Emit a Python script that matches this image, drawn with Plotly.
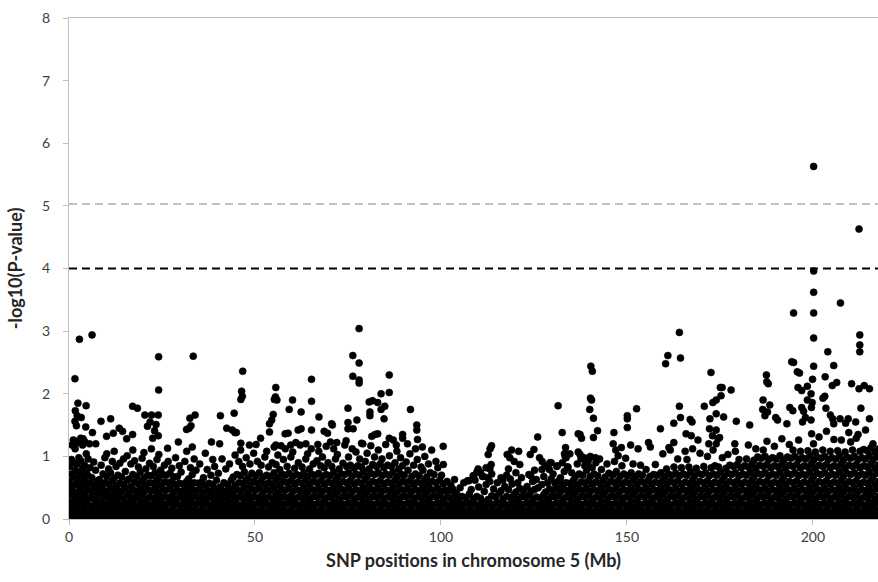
import plotly.graph_objects as go

# ---- Data ----
# Dense background band: one string per 1-Mb column (0..217), -log10(P) values x100
band_0_49 = [
    "1 9 18 27 38 49 60 72 84 95", "4 13 24 35 44 55 67 78 90 112 126", "2 10 21 31 42 53 64 75 88 98 122",
    "5 15 26 37 48 58 70 81 93 118 129", "1 8 19 30 40 52 63 74 86 104 124", "3 12 23 34 46 57 69 82 96",
    "2 11 20 32 43 54 66 91", "6 16 27 38 49 60 78", "1 9 19 29 41 52 63 86", "4 14 25 36 47 58 72 98",
    "2 11 22 33 44 56 68 80 104", "5 16 27 37 49 61 74 92", "1 10 20 31 42 53 65 84 108", "3 13 24 35 46 57 70 89",
    "2 12 22 32 44 55 67 96", "6 15 26 38 50 62 76 101", "1 9 19 30 41 52 64 88", "4 14 25 35 47 59 71 93 110",
    "2 11 21 33 44 56 68 83", "5 16 27 38 49 61 75 97", "1 10 20 31 43 54 66 80 106", "3 13 24 35 47 58 70 89",
    "2 11 22 33 45 57 69 84 112", "6 16 27 39 50 62 74 95", "1 9 20 31 42 54 66 78 103", "4 14 25 36 48 59 71 86",
    "2 12 23 34 46 58 70 92", "5 15 26 37 49 60 73 81", "1 10 21 32 43 55 67 98", "3 13 24 35 46 57 68 85",
    "2 11 22 33 44 56 75", "6 16 27 38 49 60 92 108", "1 9 20 31 42 53 64 82", "4 14 25 36 47 58 71 96 115",
    "2 12 23 34 45 57 78", "5 15 26 37 48 59 88", "1 10 21 31 42 54 66 105", "3 13 24 35 46 57 79",
    "2 11 22 33 44 55 70 95", "6 16 27 38 49 62 84", "1 9 19 30 40 51 73", "4 14 25 35 46 58 96",
    "2 12 22 33 44 55 80", "5 15 26 37 48 62 88", "1 10 20 31 42 53 67 102", "3 13 24 35 47 58 71 92",
    "2 11 22 34 45 57 69 84 110", "6 16 27 38 50 62 75 98", "1 9 20 31 42 54 66 88", "4 14 25 36 48 60 73 105",
]
band_50_99 = [
    "2 12 23 34 46 57 69 92", "5 15 26 37 49 61 74 86", "1 10 21 32 43 55 67 99", "3 13 24 35 47 58 70 83 108",
    "2 11 22 33 45 56 68 90", "6 16 27 38 50 62 74 87 115", "1 9 20 31 42 54 66 79 102", "4 14 25 36 48 60 72 95",
    "2 12 23 34 46 58 70 84 112", "5 15 26 37 49 61 73 99", "1 10 21 32 44 56 68 81 107", "3 13 24 35 47 59 71 90",
    "2 11 22 34 45 57 69 83 118", "6 16 27 39 50 62 74 96", "1 9 20 31 43 55 67 80 104", "4 14 25 36 48 60 72 88 112",
    "2 12 23 35 46 58 70 93", "5 15 26 38 49 61 73 85 108", "1 10 21 32 44 56 68 82 99", "3 13 24 35 47 59 71 90 116",
    "2 11 22 34 45 57 69 84", "6 16 27 39 50 62 75 96 112", "1 9 20 31 43 55 67 80 103", "4 14 25 36 48 60 72 89",
    "2 12 23 35 46 58 71 84 118", "5 15 26 38 49 61 74 86 99", "1 10 21 32 44 56 68 81 112", "3 13 24 35 47 59 72 85 107",
    "2 11 22 34 45 57 70 83 96 121", "6 16 27 39 50 63 76 92", "1 9 20 31 43 55 68 80 105", "4 14 25 36 48 60 73 87 117",
    "2 12 23 35 46 58 71 84 99", "5 15 26 38 49 61 74 88 110", "1 10 21 32 44 56 69 82 96", "3 13 24 35 47 59 72 86 119",
    "2 11 22 34 45 57 70 84 101", "6 16 27 39 50 62 75 90", "1 9 20 31 43 55 67 80 108", "4 14 25 36 48 60 72 85 98",
    "2 12 23 35 46 58 70 91", "5 15 26 38 49 61 78 104", "1 10 21 32 44 56 68 86", "3 13 24 35 47 59 72 95 112",
    "2 11 22 34 45 57 69 83", "6 16 27 39 50 62 78 100", "1 9 20 31 43 55 67 88", "4 14 25 36 48 60 74",
    "2 12 23 35 46 58 71 92", "5 15 26 38 49 62 82",
]
band_100_149 = [
    "1 10 21 32 44 56 70 87", "3 13 24 35 46 60", "2 11 22 33 45 54", "6 16 27 38 48 63", "1 9 20 31 42",
    "4 14 25 36 50", "2 12 23 34 58", "5 15 26 40 61", "1 10 21 32 47 69", "3 13 24 36 62 75",
    "2 11 22 33 51 74", "6 16 27 44 68", "1 9 20 31 55 66 82", "4 14 25 37 60 72 80", "2 12 23 35 48",
    "5 15 26 41 58", "1 10 21 32 45 62 66", "3 13 24 36 52 70", "2 11 22 34 47 64 80", "6 16 27 39 56",
    "1 9 20 31 43 58 74", "4 14 25 36 49 66", "2 12 23 35 46", "5 15 26 38 52 71", "1 10 21 32 44 60 69",
    "3 13 24 35 47 63 78", "2 11 22 34 50", "6 16 27 39 55 68 79", "1 9 20 31 43 58", "4 14 25 36 48 64 79 90",
    "2 12 23 35 46 57 72", "5 15 26 38 49 61 84", "1 10 21 32 44 55 66 90", "3 13 24 35 47 58 76 98",
    "2 11 22 34 45 57 83 104", "6 16 27 39 50 62 74", "1 9 20 31 43 54 68 88", "4 14 25 36 48 59 72 96",
    "2 12 23 35 46 58 70 85", "5 15 26 38 49 61 78 94", "1 10 21 32 44 56 68 82 100", "3 13 24 35 47 59 72 90",
    "2 11 22 34 45 57 69 96", "6 16 27 39 50 62 79", "1 9 20 31 43 55 67 88", "4 14 25 36 48 60 73",
    "2 12 23 35 46 58 70 92", "5 15 26 38 49 61 76 101", "1 10 21 32 44 56 68 85", "3 13 24 35 47 59 72 97",
]
band_150_217 = [
    "2 11 22 34 45 57 69", "6 16 27 39 50 62 74 88", "1 9 20 31 43 55 67", "4 14 25 36 48 60 72 86",
    "2 12 23 35 46 58 70", "5 15 26 38 49 61 79", "1 10 21 32 44 56 68", "3 13 24 35 47 59 71 87",
    "2 11 22 34 45 57 70", "6 16 27 39 50 62 74 104", "1 9 20 31 43 55 67 80", "4 14 25 36 48 60 72 110",
    "2 12 23 35 46 58 70 83", "5 15 26 38 49 61 73 96", "1 10 21 32 44 56 69 82", "3 13 24 35 47 59 72 108",
    "2 11 22 34 45 57 70 83 95", "6 16 27 39 50 62 75 112", "1 9 20 31 43 55 68 81", "4 14 25 36 48 60 73 105",
    "2 12 23 35 46 58 71 84", "5 15 26 38 49 61 74 100", "1 10 21 32 44 56 69 82", "3 13 24 35 47 59 72 85 110",
    "2 11 22 34 45 57 70 83", "6 16 27 39 50 62 75 98", "1 9 20 31 43 55 68 81", "4 14 25 36 48 60 73 86 103",
    "2 12 23 35 46 58 71 84", "5 15 26 38 49 61 74 87 108", "1 10 21 32 44 56 69 82 95", "3 13 24 35 47 59 72 85",
    "2 11 22 34 45 57 70 83 96 118", "6 16 27 39 50 62 75 88", "1 9 20 31 43 55 68 81 94 112",
    "4 14 25 36 48 60 73 86 99", "2 12 23 35 46 58 71 84 97 110", "5 15 26 38 49 61 74 87 100 124",
    "1 10 21 32 44 56 69 82 95", "3 13 24 35 47 59 72 85 98 116", "2 11 22 34 45 57 70 83 96",
    "6 16 27 39 50 62 75 88 101 128", "1 9 20 31 43 55 68 81 94", "4 14 25 36 48 60 73 86 99 119",
    "2 12 23 35 46 58 71 84 97 110", "5 15 26 38 49 61 74 87 100", "1 10 21 32 44 56 69 82 95 108 126",
    "3 13 24 35 47 59 72 85 98", "2 11 22 34 45 57 70 83 96 109", "6 16 27 39 50 62 75 88 101 136",
    "1 9 20 31 43 55 68 81 94 107 120", "4 14 25 36 48 60 73 86 99 131", "2 12 23 35 46 58 71 84 97 110",
    "5 15 26 38 49 61 74 87 100 140", "1 10 21 32 44 56 69 82 95 108", "3 13 24 35 47 59 72 85 98 127",
    "2 11 22 34 45 57 70 83 96 109", "6 16 27 39 50 62 75 88 101 126", "1 9 20 31 43 55 68 81 94 107",
    "4 14 25 36 48 60 73 86 99 138", "2 12 23 35 46 58 71 84 97 110 123", "5 15 26 38 49 61 74 87 100 129",
    "1 10 21 32 44 56 69 82 95 108 135", "3 13 24 35 47 59 72 85 98 111", "2 11 22 34 45 57 70 83 96 109 142",
    "6 16 27 39 50 62 75 88 101 114", "1 9 20 31 43 55 68 81 94 107 120", "4 14 25 36 48 60 73 86 99 112",
]

# Individually read SNPs above the dense band (position Mb, -log10 P)
upper_x = [
    2.8, 6.2, 1.6, 24.1, 33.4, 24.1, 2.4, 4.6, 1.7, 2.2, 3.3, 8.6, 11.2, 17.1, 18.4, 20.4, 22.2, 24.0, 33.9, 32.5,
    32.8, 1.6, 2.0, 4.5, 6.3, 10.1, 11.9, 13.5, 14.4, 15.5, 17.1, 21.1, 21.8, 23.4, 23.0, 24.0, 22.5, 29.4, 26.5, 31.6,
    32.3, 1.5, 2.5, 3.8, 5.5, 7.2, 0.8,
    46.7, 65.2, 46.4, 46.6, 46.2, 55.6, 55.5, 55.2, 55.9, 60.1, 65.2, 59.2, 62.4, 40.7, 44.4, 67.2, 54.9, 54.5, 53.9,
    42.4, 43.9, 45.0, 44.6, 58.1, 58.9, 61.6, 62.4, 65.2, 68.6, 69.5, 70.6, 53.9, 51.5, 46.2, 38.3, 40.5, 48.5, 50.3,
    55.6, 57.0, 59.6, 61.0, 63.7, 66.9, 70.3,
    78.0, 76.3, 78.0, 76.3, 78.0, 78.0, 86.1, 83.9, 86.1, 80.7, 81.6, 83.0, 75.0, 80.9, 80.9, 83.9, 84.9, 91.8, 84.7,
    77.4, 70.8, 75.0, 75.0, 76.4, 93.5, 93.5, 81.4, 82.3, 83.0, 86.1, 87.2, 89.7, 89.7, 93.7, 100.6, 72.0, 74.5, 79.0,
    88.0, 91.0, 95.0, 97.5,
    140.3, 140.7, 140.2, 140.5, 140.0, 141.0, 131.5, 132.6, 126.0, 137.4, 137.8, 141.0, 142.1, 113.6, 113.2, 112.7,
    120.9, 117.8, 119.0, 118.5, 119.7, 121.2, 133.5, 133.2, 133.4, 137.4, 138.5, 139.0, 139.5, 141.5, 142.2, 110.0,
    113.5, 134.0, 124.0, 125.0, 126.5, 127.2, 128.0, 107.5, 108.8, 110.5, 111.4, 129.3, 131.3, 136.9, 136.9,
    164.1, 161.0, 164.4, 160.4, 172.6, 175.1, 175.6, 178.0, 152.6, 150.1, 150.1, 150.1, 164.1, 170.8, 173.1, 174.0,
    175.3, 164.4, 162.6, 167.0, 167.5, 172.3, 174.0, 176.0, 179.4, 159.0, 146.5, 165.9, 167.3, 169.1, 172.2, 173.0,
    174.0, 174.9, 174.5, 146.3, 148.5, 151.0, 155.8, 156.3, 161.3, 162.6, 172.0, 174.0, 179.0, 147.0, 153.0,
    200.2, 212.4, 200.2, 200.2, 207.4, 194.8, 200.2, 200.2, 212.6, 212.6, 212.6, 204.0, 205.6, 200.2, 194.3, 194.8,
    195.8, 196.4, 203.3, 187.5, 187.6, 188.0, 199.9, 206.4, 205.2, 210.4, 212.4, 213.8, 215.2, 196.0, 197.0, 198.5,
    199.5, 186.6, 186.5, 187.1, 188.4, 187.8, 198.5, 199.8, 199.6, 197.0, 197.5, 193.8, 194.6, 202.7, 203.2, 203.5,
    212.9, 215.2, 183.0, 190.0, 190.5, 193.0, 198.0, 197.2, 199.5, 204.7, 205.3, 205.6, 207.3, 209.5, 208.8, 211.5,
]
upper_y = [
    2.87, 2.94, 2.24, 2.59, 2.60, 2.06, 1.85, 1.81, 1.73, 1.65, 1.62, 1.56, 1.60, 1.80, 1.77, 1.66, 1.66, 1.66, 1.66, 1.61,
    1.49, 1.56, 1.49, 1.47, 1.38, 1.32, 1.37, 1.45, 1.40, 1.28, 1.35, 1.48, 1.55, 1.51, 1.41, 1.33, 1.29, 1.23, 1.13, 1.43,
    1.45, 1.25, 1.22, 1.28, 1.20, 1.20, 1.18,
    2.36, 2.23, 2.04, 1.96, 1.91, 2.10, 1.95, 1.91, 1.90, 1.90, 1.88, 1.75, 1.71, 1.65, 1.69, 1.63, 1.67, 1.58, 1.52,
    1.45, 1.42, 1.38, 1.38, 1.36, 1.37, 1.42, 1.44, 1.42, 1.40, 1.37, 1.52, 1.39, 1.29, 1.21, 1.23, 1.20, 1.18, 1.19,
    1.18, 1.17, 1.18, 1.22, 1.20, 1.19, 1.23,
    3.04, 2.61, 2.49, 2.28, 2.22, 2.17, 2.30, 2.00, 2.02, 1.87, 1.89, 1.86, 1.77, 1.71, 1.65, 1.75, 1.80, 1.75, 1.60,
    1.58, 1.50, 1.54, 1.44, 1.44, 1.50, 1.42, 1.32, 1.35, 1.36, 1.29, 1.26, 1.35, 1.29, 1.27, 1.16, 1.22, 1.25, 1.20,
    1.18, 1.20, 1.15, 1.10,
    2.44, 2.36, 1.93, 1.90, 1.75, 1.61, 1.81, 1.38, 1.31, 1.35, 1.29, 1.30, 1.41, 1.17, 1.12, 1.03,
    1.08, 1.03, 1.10, 0.98, 0.92, 0.87, 1.14, 1.04, 1.00, 1.03, 0.98, 0.92, 0.88, 0.98, 0.95, 0.80,
    0.87, 0.83, 1.03, 1.11, 0.98, 0.92, 0.85, 0.61, 0.69, 0.74, 0.68, 0.90, 0.85, 1.36, 1.07,
    2.98, 2.61, 2.57, 2.48, 2.34, 2.10, 2.10, 2.06, 1.76, 1.65, 1.60, 1.46, 1.80, 1.80, 1.86, 1.90,
    1.97, 1.62, 1.53, 1.59, 1.55, 1.60, 1.68, 1.63, 1.56, 1.44, 1.38, 1.36, 1.33, 1.26, 1.44, 1.33,
    1.42, 1.30, 1.28, 1.20, 1.14, 1.18, 1.22, 1.15, 1.14, 1.22, 1.20, 1.20, 1.20, 1.10, 1.12,
    5.63, 4.63, 3.96, 3.62, 3.45, 3.29, 3.29, 2.89, 2.94, 2.78, 2.67, 2.67, 2.45, 2.44, 2.51, 2.50,
    2.35, 2.33, 2.27, 2.30, 2.19, 2.16, 2.23, 2.18, 2.13, 2.16, 2.08, 2.13, 2.08, 2.10, 2.05, 2.12,
    2.00, 1.90, 1.75, 1.65, 1.82, 1.71, 1.90, 1.86, 1.78, 1.78, 1.72, 1.78, 1.73, 1.93, 1.96, 1.77,
    1.77, 1.60, 1.50, 1.62, 1.58, 1.52, 1.62, 1.55, 1.58, 1.66, 1.60, 1.52, 1.60, 1.60, 1.53, 1.55,
]

thresholds = [5.03, 4.0]
threshold_colors = ["#bfbfbf", "#000000"]
x_ticks = [0, 50, 100, 150, 200]
y_ticks = [0, 1, 2, 3, 4, 5, 6, 7, 8]

# ---- Build point list (SNPs within a 1-Mb column alternate between two sub-positions) ----
band_x, band_y = [], []
for start, seg in ((0, band_0_49), (50, band_50_99), (100, band_100_149), (150, band_150_217)):
    for k, col in enumerate(seg):
        for i, v in enumerate(col.split()):
            band_x.append(start + k + (0.15 if i % 2 == 0 else 0.65))
            band_y.append(int(v) / 100.0)

xs = band_x + upper_x
ys = band_y + upper_y

fig = go.Figure()
fig.add_trace(go.Scatter(
    x=xs, y=ys, mode="markers",
    marker=dict(color="#000000", size=7, line=dict(width=0.6, color="#000000")),
    showlegend=False, hoverinfo="x+y",
))

for t, c in zip(thresholds, threshold_colors):
    fig.add_shape(type="line", xref="paper", x0=0, x1=1, yref="y", y0=t, y1=t,
                  line=dict(color=c, width=2, dash="8px,5px"), layer="above")

FONT = "Lato, 'Open Sans', sans-serif"
axis_font = dict(family=FONT, size=14, color="#404040")
title_font = dict(family=FONT, size=18, color="#262626")
fig.update_layout(
    width=878, height=582,
    margin=dict(l=69, r=0, t=18, b=63),
    plot_bgcolor="white", paper_bgcolor="white",
    font=dict(family=FONT),
    xaxis=dict(
        range=[0, 217.5], tickvals=x_ticks, showgrid=False, zeroline=False,
        showline=True, linecolor="#bfbfbf", linewidth=1, mirror=True,
        ticks="outside", ticklen=5, tickcolor="#bfbfbf", tickfont=axis_font,
        title=dict(text="<b>SNP positions in chromosome 5 (Mb)</b>", font=title_font, standoff=10),
    ),
    yaxis=dict(
        range=[0, 8], tickvals=y_ticks, showgrid=False, zeroline=False,
        showline=True, linecolor="#bfbfbf", linewidth=1,
        ticks="outside", ticklen=5, tickcolor="#bfbfbf", tickfont=axis_font,
        ticklabelstandoff=10,
        title=dict(text="<b>-log10(P-value)</b>", font=title_font, standoff=14),
    ),
)

fig.write_html("out.html")
